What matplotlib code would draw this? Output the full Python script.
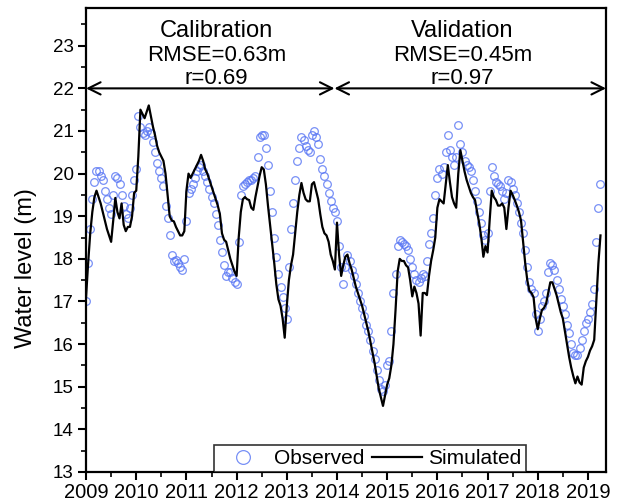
import numpy as np
import matplotlib
matplotlib.use("Agg")
import matplotlib.pyplot as plt
from matplotlib.ticker import MultipleLocator

plt.rcParams['font.family'] = ['Liberation Sans', 'DejaVu Sans']

# water level (m), two readings per month starting 1 Jan 2009
start_year = 2009
observed = [
    # 2009
    17.0, 17.9, 18.7, 19.4, 19.8, 20.05, 20.05, 19.95, 19.85, 19.6, 19.4, 19.2,
    19.05, 19.5, 19.95, 19.9, 19.75, 19.5, 19.25, 19.05, 18.95, 19.2, 19.5, 19.85,
    # 2010
    20.1, 21.35, 21.1, 20.95, 20.9, 21.0, 21.1, 20.95, 20.75, 20.5, 20.25, 20.05,
    19.9, 19.7, 19.25, 18.95, 18.55, 18.1, 17.95, 17.98, 17.9, 17.8, 17.75, 18.0,
    # 2011
    18.9, 19.55, 19.65, 19.75, 19.9, 20.05, 20.15, 20.2, 20.05, 19.95, 19.8, 19.65,
    19.45, 19.3, 19.05, 18.8, 18.45, 18.15, 17.85, 17.6, 17.7, 17.7, 17.55, 17.45,
    # 2012
    17.4, 18.4, 19.5, 19.7, 19.75, 19.8, 19.85, 19.85, 19.9, 19.95, 20.4, 20.85,
    20.9, 20.9, 20.6, 20.2, 19.6, 19.1, 18.5, 18.05, 17.65, 17.35, 17.1, 16.85,
    # 2013
    16.6, 17.8, 18.7, 19.3, 19.85, 20.3, 20.6, 20.85, 20.8, 20.65, 20.55, 20.5,
    20.9, 21.0, 20.85, 20.7, 20.35, 20.1, 19.95, 19.75, 19.55, 19.35, 19.2, 19.1,
    # 2014
    18.9, 18.3, 17.8, 17.4, 17.8, 18.1, 17.95, 17.75, 17.6, 17.4, 17.2, 17.0,
    16.85, 16.65, 16.45, 16.3, 16.1, 15.85, 15.65, 15.4, 15.15, 14.95, 14.9, 15.05,
    # 2015
    15.5, 15.6, 16.3, 17.2, 17.65, 18.3, 18.45, 18.4, 18.35, 18.3, 18.2, 18.0,
    17.8, 17.65, 17.5, 17.45, 17.55, 17.65, 17.6, 17.95, 18.35, 18.6, 18.95, 19.5,
    # 2016
    19.9, 20.1, 20.0, 20.15, 20.5, 20.9, 20.55, 20.4, 20.2, 20.4, 21.15, 20.7,
    20.5, 20.3, 20.2, 20.15, 20.05, 19.85, 19.6, 19.35, 19.1, 18.85, 18.55, 18.45,
    # 2017
    18.6, 19.6, 20.15, 19.95, 19.8, 19.75, 19.7, 19.6, 19.4, 19.55, 19.85, 19.8,
    19.65, 19.5, 19.3, 19.1, 18.85, 18.6, 18.2, 17.8, 17.45, 17.3, 17.2, 16.7,
    # 2018
    16.3, 16.6, 16.9, 17.0, 17.2, 17.7, 17.9, 17.85, 17.75, 17.5, 17.3, 17.05,
    16.9, 16.7, 16.45, 16.25, 16.0, 15.8, 15.75, 15.75, 15.9, 16.1, 16.3, 16.5,
    # 2019
    16.6, 16.75, 16.95, 17.3, 18.4, 19.2, 19.75,
]
simulated = [
    # 2009
    17.1, 17.9, 18.6, 19.1, 19.45, 19.6, 19.45, 19.3, 19.1, 18.9, 18.7, 18.55,
    18.4, 18.9, 19.43, 19.1, 18.95, 19.3, 18.8, 18.65, 18.75, 18.75, 19.0, 19.55,
    # 2010
    19.6, 20.4, 21.5, 21.4, 21.3, 21.45, 21.6, 21.35, 21.1, 20.9, 20.65, 20.5,
    20.4, 20.3, 20.0, 19.5, 19.0, 18.9, 18.88, 18.75, 18.65, 18.55, 18.55, 18.65,
    # 2011
    19.6, 20.0, 19.9, 20.0, 20.1, 20.2, 20.3, 20.44, 20.3, 20.1, 20.0, 19.85,
    19.7, 19.55, 19.4, 19.25, 19.05, 18.6, 18.45, 18.4, 18.2, 18.0, 17.85, 17.7,
    # 2012
    17.6, 18.5, 19.1, 19.4, 19.45, 19.4, 19.38, 19.2, 19.15, 19.45, 19.7, 19.95,
    20.15, 20.1, 19.75, 19.25, 18.8, 18.35, 17.9, 17.4, 17.05, 16.9, 16.6, 16.15,
    # 2013
    16.9, 17.5, 17.85, 18.1, 18.6, 19.1, 19.5, 19.78, 19.55, 19.4, 19.35, 19.35,
    19.75, 19.8, 19.6, 19.4, 19.05, 18.75, 18.6, 18.55, 18.4, 18.1, 17.95, 17.75,
    # 2014
    18.85, 18.1, 17.6, 17.85, 18.05, 18.1, 17.9, 17.75, 17.55, 17.35, 17.2, 17.05,
    16.9, 16.7, 16.5, 16.3, 16.05, 15.8, 15.55, 15.25, 14.95, 14.75, 14.55, 14.8,
    # 2015
    15.05, 15.2, 15.5, 16.0, 16.8, 17.7, 18.0, 17.95, 17.95, 17.85, 17.8, 17.5,
    17.12, 17.35, 17.2, 16.95, 16.2, 17.2, 17.2, 17.15, 17.6, 17.95, 18.2, 18.5,
    # 2016
    19.2, 19.4, 19.35, 19.3, 19.75, 20.2, 19.8, 19.45, 19.3, 19.2, 20.0, 20.55,
    20.3, 20.05, 19.85, 19.7, 19.55, 19.45, 19.38, 19.1, 18.84, 18.5, 18.05, 18.3,
    # 2017
    18.15, 18.9, 19.6, 19.45, 19.38, 19.25, 19.25, 19.3, 19.2, 18.7, 19.2, 19.6,
    19.5, 19.38, 19.25, 19.1, 18.9, 18.4, 17.9, 17.5, 17.25, 17.2, 17.1, 16.6,
    # 2018
    16.35, 16.6, 16.8, 16.85, 16.95, 17.2, 17.45, 17.45, 17.3, 17.15, 16.95, 16.75,
    16.6, 16.3, 16.0, 15.7, 15.45, 15.25, 15.08, 15.24, 15.1, 15.05, 15.45, 15.6,
    # 2019
    15.7, 15.85, 15.95, 16.1, 17.0, 17.9, 18.55,
]
years = list(range(2009, 2020))
split_year = 2013.95
periods = ["Calibration", "Validation"]
rmse_text = ["RMSE=0.63m", "RMSE=0.45m"]
r_text = ["r=0.69", "r=0.97"]

t = start_year + np.arange(len(observed)) / 24.0

fig = plt.figure(figsize=(6.19, 5.04), dpi=100)
ax = fig.add_axes([0.139, 0.0635, 0.840, 0.921])

ax.plot(t, observed, linestyle='none', marker='o', markersize=5.5,
        markerfacecolor='none', markeredgecolor='#5674f4', markeredgewidth=0.9,
        alpha=0.8, label='Observed', zorder=2)
ax.plot(t, simulated, color='black', linewidth=1.6, label='Simulated', zorder=3)

x0, x1 = 2009, 2019.36
ax.set_xlim(x0, x1)
ax.set_ylim(13, 23.89)

# period arrows + labels
for a, b in [(x0, split_year), (split_year, x1)]:
    ax.annotate('', xy=(a, 22), xytext=(b, 22),
                arrowprops=dict(arrowstyle='<->', color='black', lw=1.5,
                                mutation_scale=22, shrinkA=0, shrinkB=0),
                annotation_clip=False)
for i, xc in enumerate([2011.6, 2016.5]):
    ax.text(xc, 23.35, periods[i], ha='center', va='center', fontsize=17)
    ax.text(xc, 22.77, rmse_text[i], ha='center', va='center', fontsize=16)
    ax.text(xc, 22.23, r_text[i], ha='center', va='center', fontsize=16)

ax.set_xticks(years)
ax.set_xticklabels([str(y) for y in years])
ax.xaxis.set_minor_locator(MultipleLocator(0.5))
ax.yaxis.set_major_locator(MultipleLocator(1))
ax.yaxis.set_minor_locator(MultipleLocator(0.5))
ax.tick_params(which='major', direction='out', length=6, width=1.5, pad=3)
ax.tick_params(which='minor', direction='out', length=3.5, width=1.2)
ax.tick_params(axis='x', labelsize=14.5, pad=2)
ax.tick_params(axis='y', labelsize=13.5)
ax.tick_params(top=False, right=False, which='both')
for s in ax.spines.values():
    s.set_linewidth(1.6)

fig.text(26 / 619, 1 - 268 / 504, 'Water level (m)', rotation=90,
         ha='center', va='center', fontsize=17)

leg = ax.legend(loc='lower center', bbox_to_anchor=(0.546, 0.0), ncol=2,
                fontsize=15, frameon=True, fancybox=False, borderaxespad=0,
                handlelength=2.4, columnspacing=0.35, handletextpad=0.3,
                borderpad=0.2, markerscale=1.8)
leg.get_frame().set_edgecolor('black')
leg.get_frame().set_linewidth(1.2)

fig.savefig('out.png', dpi=100)
